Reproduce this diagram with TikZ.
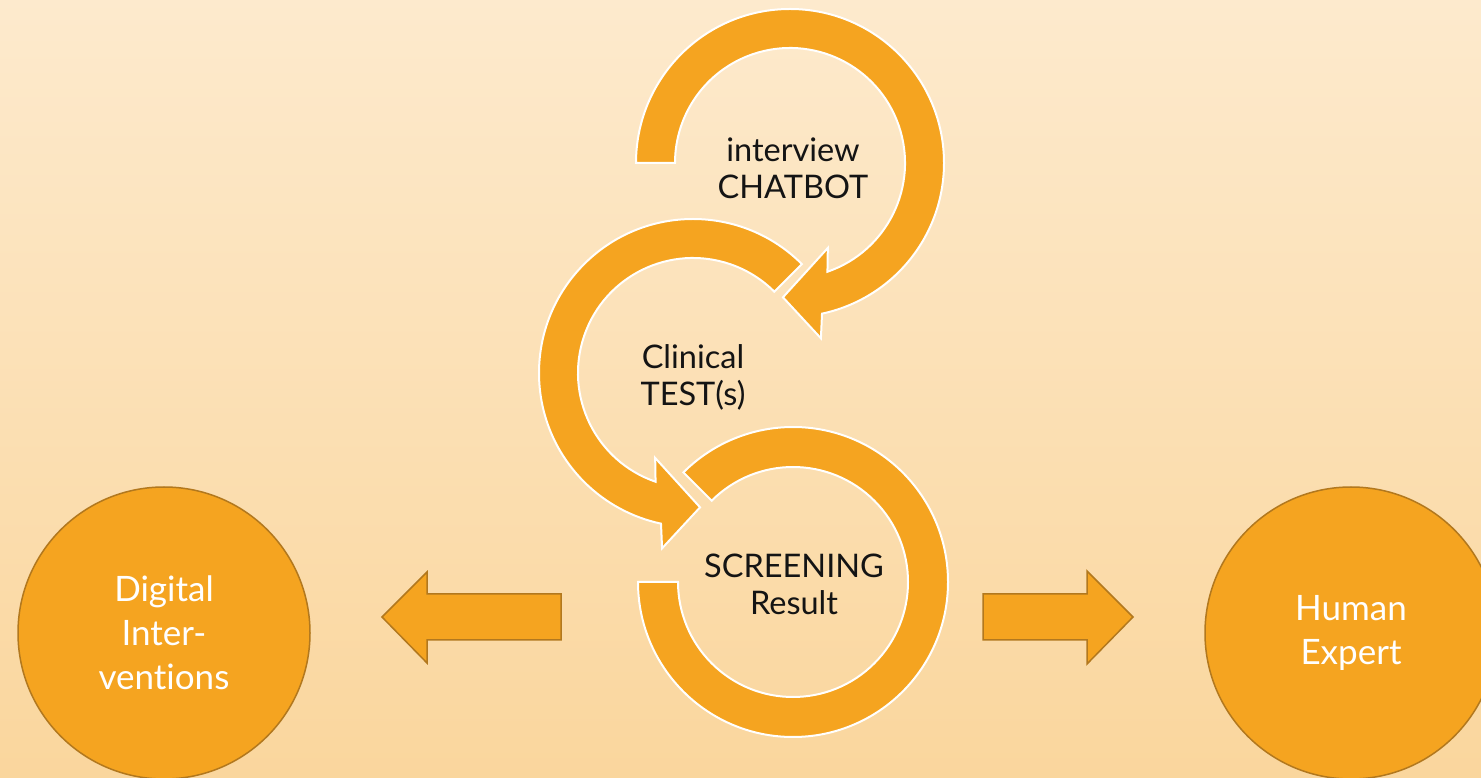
\documentclass[tikz,border=0pt]{standalone}
\usepackage{fontspec}
\setmainfont[Ligatures=NoCommon]{Lato}
\definecolor{bgtop}{RGB}{253,234,205}
\definecolor{bgbot}{RGB}{250,214,157}
\definecolor{ringfill}{RGB}{245,164,32}
\definecolor{edgebrown}{RGB}{178,120,30}
\definecolor{labelink}{RGB}{20,20,20}

\begin{document}
\begin{tikzpicture}[x=1pt,y=1pt,
  ring/.style={fill=ringfill, draw=white, line width=2pt, line join=miter},
  blockarrow/.style={fill=ringfill, draw=edgebrown, line width=1.5pt, line join=miter},
  sidecircle/.style={circle, fill=ringfill, draw=edgebrown, line width=1.5pt,
    minimum size=292pt, inner sep=0pt, text=white, align=center,
    font=\fontsize{35}{44}\selectfont},
  ringlabel/.style={inner sep=0pt, text=labelink, align=center,
    font=\fontsize{32.5}{37}\selectfont}]
\useasboundingbox (0,0) rectangle (1481,777);
\clip (0,0) rectangle (1481,777);

% soft vertical background gradient
\shade[top color=bgtop, bottom color=bgbot] (0,0) rectangle (1481,777);

% first circular arrow: clockwise, head pointing into the second loop
\path[ring, shift={(790,614)}]
  (180:154) arc[start angle=180, end angle=-78, radius=154]
  -- (-80:178) -- (-93:134.5) -- (-66:93) -- (-71:115)
  arc[start angle=-71, end angle=180, radius=115] -- cycle;

% second circular arrow: counter-clockwise, head pointing into the third loop
\path[ring, shift={(693,404)}]
  (45:154) arc[start angle=45, end angle=258, radius=154]
  -- (260:178) -- (273:134.5) -- (246:93) -- (251:115)
  arc[start angle=251, end angle=45, radius=115] -- cycle;

% third loop: open block arc without a head
\path[ring, shift={(793,195)}]
  (180:155) arc[start angle=180, end angle=495, radius=155]
  -- (495:115) arc[start angle=495, end angle=180, radius=115] -- cycle;

% loop labels
\node[ringlabel] (chatbot) at (793,609) {interview\\CHATBOT};
\node[ringlabel] (clinical) at (693,400) {Clinical\\TEST(s)};
\node[ringlabel] (screening) at (794,193) {SCREENING\\Result};

% outcome circles
\node[sidecircle] (digital) at (164,144) {Digital\\Inter-\\ventions};
\node[sidecircle] (expert) at (1351,144) {Human\\Expert};

% block arrows leading to the outcomes
\path[blockarrow] (382,160) -- (427,205) -- (427,183) -- (561,183)
  -- (561,137) -- (427,137) -- (427,114) -- cycle;
\path[blockarrow] (1133,160) -- (1087,206) -- (1087,183) -- (983,183)
  -- (983,137) -- (1087,137) -- (1087,113) -- cycle;
\end{tikzpicture}
\end{document}
